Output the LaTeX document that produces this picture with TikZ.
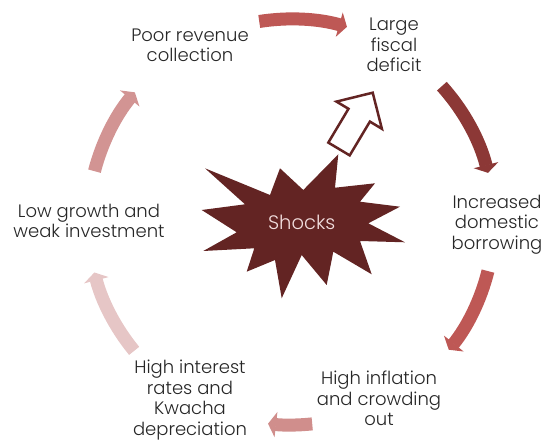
\documentclass[tikz,border=0pt]{standalone}
\usepackage{fontspec}
\setmainfont{Poppins}[UprightFont=* Light]
\usepackage{tikz}
\usetikzlibrary{arrows.meta, positioning}
\definecolor{shockred}{RGB}{99,36,35}
\definecolor{darkred}{RGB}{140,56,54}
\definecolor{midred}{RGB}{190,88,85}
\definecolor{pinkred}{RGB}{208,142,140}
\definecolor{paleleft}{RGB}{210,148,147}
\definecolor{palered}{RGB}{230,198,198}
\definecolor{txtgray}{RGB}{38,38,38}
\tikzset{
x=1pt, y=1pt, % one unit is one pixel of the picture
cyc/.style={line width=13, -{Triangle[length=8, width=25]}}, % the thick curved arrows of the cycle
step box/.style={align=center, text=txtgray, inner sep=0pt, font=\fontsize{18}{20.5}\selectfont}, % sets the look of each stage text
}

\begin{document}
\begin{tikzpicture}
    \useasboundingbox (0,0) rectangle (544,442);
    \coordinate (c) at (291,220);
    % stages of the cycle
    \node[step box] (poor) at (190,396.5) {Poor revenue\\collection};
    \node[step box] (large) at (394,397) {Large\\fiscal\\deficit};
    \node[step box] (incr) at (497,217.5) {Increased\\domestic\\borrowing};
    \node[step box] (infl) at (379,43.5) {High inflation\\and crowding\\out};
    \node[step box] (inter) at (190,42) {High interest\\rates and\\Kwacha\\depreciation};
    \node[step box] (low) at (89,221) {Low growth and\\weak investment};
    % arrows between the stages
    \draw[cyc, midred] ([shift={(99:203)}]c) arc[start angle=99, end angle=74, radius=203];
    \draw[cyc, darkred] ([shift={(42:203)}]c) arc[start angle=42, end angle=14, radius=203];
    \draw[cyc, midred] ([shift={(-14:203)}]c) arc[start angle=-14, end angle=-39, radius=203];
    \draw[cyc, pinkred] ([shift={(-84:203)}]c) arc[start angle=-84, end angle=-96.5, radius=203];
    \draw[cyc, palered] ([shift={(-140.6:203)}]c) arc[start angle=-140.6, end angle=-165.6, radius=203];
    \draw[cyc, paleleft] ([shift={(165.5:203)}]c) arc[start angle=165.5, end angle=140.3, radius=203];
    % the shocks star
    \fill[shockred] (205,273.7) -- (270,247) -- (280,273.7) -- (303.3,252) -- (338.3,287.7)
        -- (335,254.3) -- (375,258.7) -- (360,240.3) -- (400,235.3) -- (368.3,218.7)
        -- (405,199.7) -- (360,201) -- (371.7,167.7) -- (333.3,190.3) -- (326.7,157)
        -- (301.7,187) -- (281.7,143.7) -- (275,182) -- (246.7,170.3) -- (254.3,193.7)
        -- (203.3,191) -- (236.7,209.7) -- (201.7,232) -- (245,237.7) -- cycle;
    \node[text={rgb,255:red,242;green,222;blue,222}, font=\fontsize{19.5}{22}\selectfont] (shocks) at (301.7,220) {Shocks};
    % hollow arrow from the shocks to the deficit
    \draw[shockred, line width=2.5, fill=white, line join=miter] (328.3,299.4) -- (348.5,333.2) -- (336.5,340.4)
        -- (372.7,349.3) -- (381.9,313.2) -- (369.9,320.4) -- (349.7,286.6) -- cycle;
\end{tikzpicture}
\end{document}
